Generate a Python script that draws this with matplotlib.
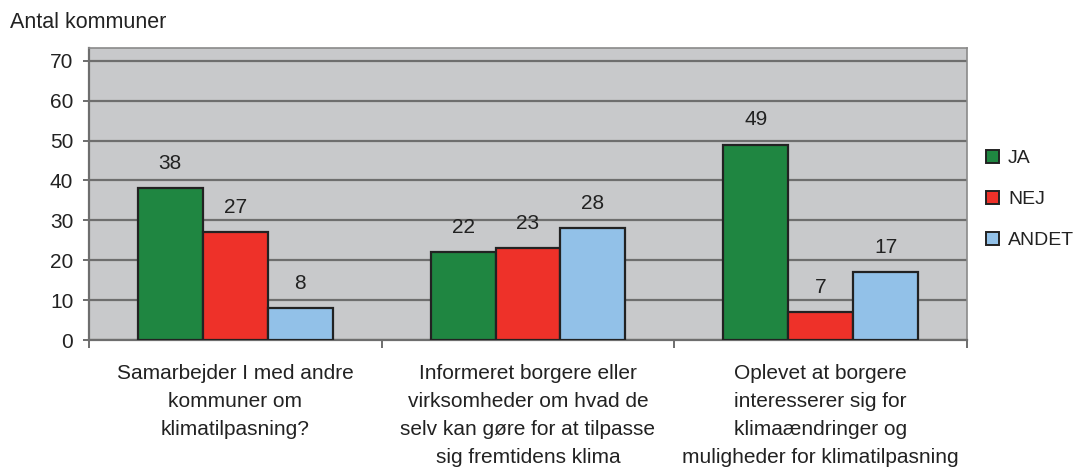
import matplotlib
matplotlib.use("Agg")
import matplotlib.pyplot as plt
import numpy as np
from matplotlib.patches import Patch

plt.rcParams['font.family'] = ['Liberation Sans', 'DejaVu Sans']

categories = [
    "Samarbejder I med andre\nkommuner om\nklimatilpasning?",
    "Informeret borgere eller\nvirksomheder om hvad de\nselv kan gøre for at tilpasse\nsig fremtidens klima",
    "Oplevet at borgere\ninteresserer sig for\nklimaændringer og\nmuligheder for klimatilpasning",
]
series_names = ["JA", "NEJ", "ANDET"]
ja = [38, 22, 49]
nej = [27, 23, 7]
andet = [8, 28, 17]
yticks = [0, 10, 20, 30, 40, 50, 60, 70]
ylabel = "Antal kommuner"

colors = ["#1f8641", "#ee3129", "#92c1e8"]
text_color = "#222222"
fs = 15

fig = plt.figure(figsize=(10.76, 4.70), dpi=100)
ax = fig.add_axes([89/1076, 1-340/470, (967-89)/1076, (340-48)/470])
ax.set_facecolor("#c8c9cb")

x = np.arange(len(categories))
w = 0.222
for i, (vals, col) in enumerate(zip([ja, nej, andet], colors)):
    pos = x + (i - 1) * w
    bars = ax.bar(pos, vals, width=w, color=col, edgecolor="#222222", linewidth=1.6, zorder=3)
    for b, v in zip(bars, vals):
        ax.annotate(str(v), (b.get_x() + b.get_width()/2, v), xytext=(0, 18),
                    textcoords="offset points", ha="center", va="center",
                    fontsize=fs, color=text_color, zorder=4)

ax.set_xlim(-0.5, 2.5)
ax.set_ylim(0, 73.2)
ax.set_yticks(yticks)
ax.set_yticklabels([str(t) for t in yticks], fontsize=fs, color=text_color)
ax.yaxis.grid(True, color="#6e6e6e", linewidth=1.6, zorder=1)
ax.set_axisbelow(True)
ax.tick_params(axis="y", length=4.3, width=1.4, color="#6e6e6e", pad=7)

ax.set_xticks([-0.5, 0.5, 1.5, 2.5])
ax.set_xticklabels([])
ax.tick_params(axis="x", which="major", length=5.5, width=1.4, color="#6e6e6e")
ax.set_xticks(x, minor=True)
ax.set_xticklabels(categories, minor=True, fontsize=fs, color=text_color, linespacing=1.6)
ax.tick_params(axis="x", which="minor", length=0, pad=17.5)

for s in ["left", "bottom"]:
    ax.spines[s].set_color("#6e6e6e")
    ax.spines[s].set_linewidth(1.6)
for s in ["top", "right"]:
    ax.spines[s].set_color("#8a8a8a")
    ax.spines[s].set_linewidth(1.2)

fig.text(10/1076, 1-22/470, ylabel, fontsize=15.5, color=text_color, ha="left", va="center")

handles = [Patch(facecolor=c, edgecolor="#222222", linewidth=1.4) for c in colors]
leg = fig.legend(handles, series_names, loc="upper left", bbox_to_anchor=(978/1076, 1-142/470),
                 frameon=False, fontsize=14, handlelength=0.7, handleheight=0.7,
                 handletextpad=0.45, labelspacing=1.2, borderaxespad=0)
for t in leg.get_texts():
    t.set_color(text_color)

fig.savefig("out.png", dpi=100)
